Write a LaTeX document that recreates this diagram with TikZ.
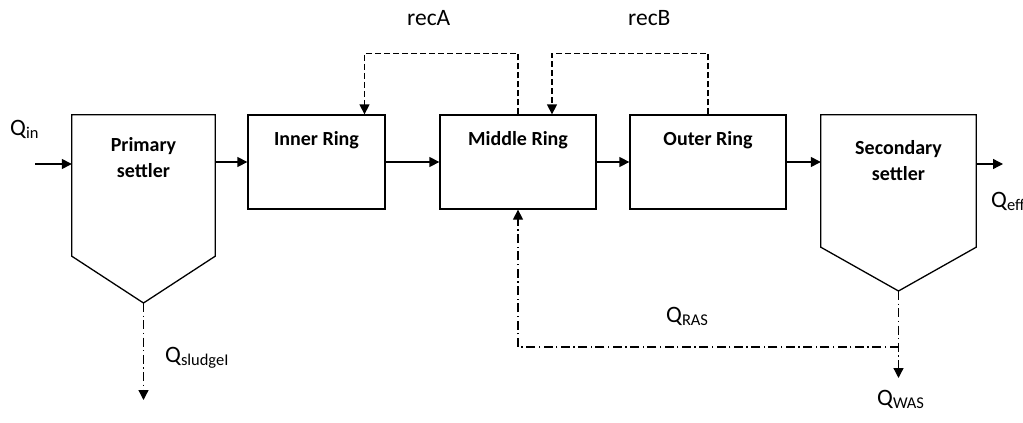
\documentclass[tikz,border=0pt]{standalone}
\usepackage{fontspec}
\setmainfont{Carlito}
\usetikzlibrary{arrows.meta,positioning,calc}
\tikzset{unit/.style={draw,line width=1.3pt,minimum width=156pt,minimum height=94pt,inner sep=0pt},tank/.style={inner sep=0pt},outline/.style={line width=1.3pt,line join=miter},title/.style={font=\fontsize{20}{26}\selectfont\bfseries,align=center},lbl/.style={font=\fontsize{23.5}{27}\selectfont,inner sep=0pt,anchor=base west},flow/.style={-{Triangle[length=10pt,width=10pt]},line width=1.3pt},recycle/.style={flow,dash pattern=on 6pt off 3pt},sludge/.style={flow,dash pattern=on 9pt off 3.5pt on 1.3pt off 3.5pt}}

\begin{document}
\begin{tikzpicture}[x=1pt,y=-1pt]
\useasboundingbox (0,0) rectangle (1023,423);
% process units
\node[tank,minimum width=143pt,minimum height=141pt] (primary) at (143.5,185.5) {};
\node[unit,minimum width=137pt] (inner) at (316.5,162) {};
\node[unit] (middle) at (518,162) {};
\node[unit] (outer) at (708,162) {};
\node[tank,minimum width=155pt,minimum height=132pt] (secondary) at (898.5,181) {};
\coordinate (primcone) at (143.5,303);
\coordinate (seccone) at (898.5,291);
% settlers with conical bottom
\draw[outline] (primary.south west) -- (primary.north west) -- (primary.north east) -- (primary.south east) -- (primcone) -- cycle;
\draw[outline] (secondary.south west) -- (secondary.north west) -- (secondary.north east) -- (secondary.south east) -- (seccone) -- cycle;
\node[title] at (143.5,158) {Primary\\settler};
\node[title] at (316.5,140) {Inner Ring};
\node[title] at (518,140) {Middle Ring};
\node[title] at (708,140) {Outer Ring};
\node[title] at (898.5,161) {Secondary\\settler};
% flow labels
\node[lbl] (qin) at (10,135) {Q\textsubscript{in}};
\node[lbl] (reca) at (407,25) {recA};
\node[lbl] (recb) at (628,25) {recB};
\node[lbl] (qeff) at (991,207) {Q\textsubscript{eff}};
\node[lbl] (qras) at (666,322) {Q\textsubscript{RAS}};
\node[lbl] (qwas) at (877,405) {Q\textsubscript{WAS}};
\node[lbl] (qsludge) at (165,362) {Q\textsubscript{sludgeI}};
\coordinate (feed) at (35,164);
\coordinate (eff) at (1003,164);
\coordinate (waste) at (898.5,378);
\coordinate (sludgeout) at (143.5,400);
\coordinate (split) at (898.5,347);
% main line
\draw[flow] (feed) -- (feed -| primary.west);
\draw[flow] (primary.east |- inner.west) -- (inner.west);
\draw[flow] (inner) -- (middle);
\draw[flow] (middle) -- (outer);
\draw[flow] (outer.east) -- (outer.east -| secondary.west);
\draw[flow] (secondary.east |- eff) -- (eff);
% internal recycles
\draw[recycle] (middle.north) -- ++(0,-61) -| ([xshift=48pt]inner.north);
\draw[recycle] (outer.north) -- ++(0,-61) -| ([xshift=34pt]middle.north);
% sludge withdrawal and return
\draw[sludge] (primcone) -- (sludgeout);
\draw[sludge] (seccone) -- (waste);
\draw[sludge] (split) -| (middle.south);
\end{tikzpicture}
\end{document}
